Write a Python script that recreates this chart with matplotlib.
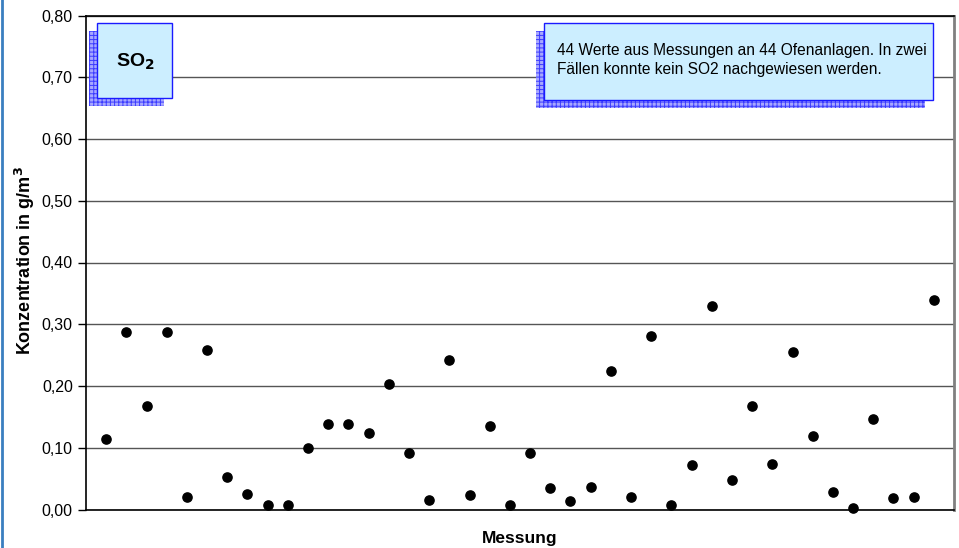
import matplotlib
matplotlib.use("Agg")
import matplotlib.pyplot as plt
from matplotlib.patches import Rectangle
from matplotlib.ticker import FuncFormatter

plt.rcParams['font.family'] = ['Liberation Sans', 'DejaVu Sans']
plt.rcParams['hatch.linewidth'] = 0.7

# 44 measurements, 2 below detection limit (not plotted)
messung = list(range(1, 43))
so2 = [0.114, 0.288, 0.167, 0.288, 0.020, 0.258, 0.052, 0.025, 0.007, 0.007,
       0.099, 0.138, 0.138, 0.124, 0.204, 0.092, 0.015, 0.242, 0.023, 0.135,
       0.007, 0.091, 0.035, 0.013, 0.036, 0.225, 0.020, 0.281, 0.007, 0.072,
       0.329, 0.048, 0.167, 0.073, 0.255, 0.119, 0.028, 0.003, 0.146, 0.018,
       0.020, 0.339]
y_ticks = [0.0, 0.1, 0.2, 0.3, 0.4, 0.5, 0.6, 0.7, 0.8]

W, H = 959, 548
fig = plt.figure(figsize=(W / 100, H / 100), dpi=100)
ax = fig.add_axes([86 / W, 1 - 509.5 / H, (954 - 86) / W, (509.5 - 15.5) / H])

ax.scatter(messung, so2, s=44, color='black', zorder=3, clip_on=False)
ax.set_xlim(0, 43)
ax.set_ylim(0, 0.8)
ax.set_yticks(y_ticks)
ax.yaxis.set_major_formatter(FuncFormatter(lambda v, p: f"{v:.2f}".replace('.', ',')))
ax.set_xticks([])
ax.grid(axis='y', color='#555555', linewidth=1)
ax.set_axisbelow(True)
ax.tick_params(axis='y', length=5.5, width=1, labelsize=11.5, color='black', pad=4)
for s in ['left', 'bottom', 'top']:
    ax.spines[s].set_color('black')
    ax.spines[s].set_linewidth(1.2)
ax.spines['right'].set_color('#808080')
ax.spines['right'].set_linewidth(2)

fig.text(25 / W, 1 - 261 / H, 'Konzentration in g/m$^\\mathbf{3}$', fontsize=13,
         fontweight='bold', rotation=90, ha='center', va='center')
fig.text(520 / W, 1 - 538 / H, 'Messung', fontsize=12.5, fontweight='bold',
         ha='center', va='center')


def box(x0, y0, x1, y1, dx=-8, dy=8):
    # hatched shadow then the box itself (pixel coords, y from top)
    sh = Rectangle(((x0 + dx) / W, 1 - (y1 + dy) / H), (x1 - x0) / W, (y1 - y0) / H,
                   transform=fig.transFigure, facecolor='#a8a8ff', edgecolor='#3c3cff',
                   hatch='++++', linewidth=0, zorder=5)
    fig.add_artist(sh)
    bx = Rectangle((x0 / W, 1 - y1 / H), (x1 - x0) / W, (y1 - y0) / H,
                   transform=fig.transFigure, facecolor='#cceeff', edgecolor='#1a1aff',
                   linewidth=1, zorder=6)
    fig.add_artist(bx)


box(97, 23, 172, 98)
fig.text(135 / W, 1 - 62 / H, 'SO$_\\mathbf{2}$', fontsize=14, fontweight='bold',
         ha='center', va='center', zorder=7)

box(544, 23, 933, 100)
fig.text(557 / W, 1 - 60 / H,
         '44 Werte aus Messungen an 44 Ofenanlagen. In zwei\nFällen konnte kein SO2 nachgewiesen werden.',
         fontsize=11.2, ha='left', va='center', linespacing=1.3, zorder=7)

# blue frame line on the left edge
fig.add_artist(plt.Line2D([1.5 / W, 1.5 / W], [0, 1], transform=fig.transFigure,
                          color='#3a7fc0', linewidth=2))

fig.savefig('out.png', dpi=100)
